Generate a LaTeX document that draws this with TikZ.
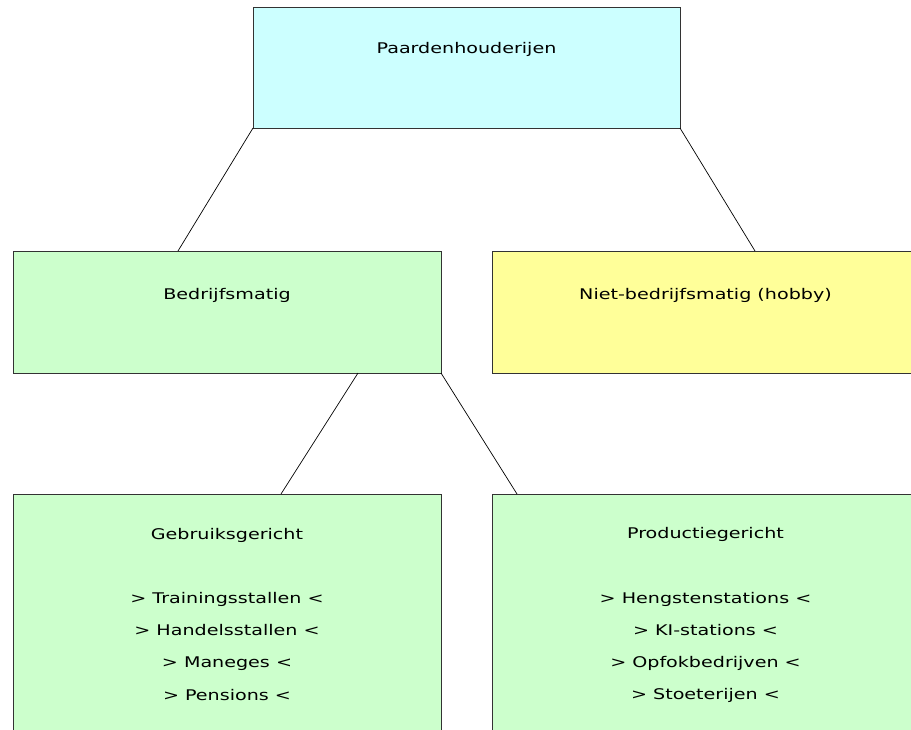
\documentclass[tikz,border=0pt]{standalone}
\usepackage{fontspec}
\setmainfont{DejaVu Sans}[FakeStretch=1.3]
\usetikzlibrary{calc}
\definecolor{cyanbox}{HTML}{CCFFFF}
\definecolor{greenbox}{HTML}{CCFFCC}
\definecolor{yellowbox}{HTML}{FFFF99}
\definecolor{boxline}{HTML}{333333}
\begin{document}
\begin{tikzpicture}[x=1pt,y=-1pt,
  box/.style={draw=boxline, line width=0.8pt, anchor=north west, inner sep=0pt, outer sep=0pt, minimum width=428pt},
  conn/.style={draw=black, line width=0.7pt},
  lbl/.style={anchor=base, inner sep=0pt, align=center, font=\fontsize{14.7pt}{32.2pt}\selectfont}]
\useasboundingbox (0,0) rectangle (911,729);
\clip (0,0) rectangle (911,729);
\fill[white] (0,0) rectangle (911,729);
% boxes
\node[box, fill=cyanbox, minimum width=427pt, minimum height=121pt] (top) at (253,7) {};
\node[box, fill=greenbox, minimum height=122pt] (bedr) at (13,251) {};
\node[box, fill=yellowbox, minimum height=122pt] (niet) at (492,251) {};
\node[box, fill=greenbox, minimum height=260pt] (gebr) at (13,494) {};
\node[box, fill=greenbox, minimum height=260pt] (prod) at (492,494) {};
% connectors
\draw[conn] (top.south west) -- ([xshift=165pt]bedr.north west);
\draw[conn] (top.south east) -- ([xshift=263pt]niet.north west);
\draw[conn] ([xshift=345pt]bedr.south west) -- ([xshift=268pt]gebr.north west);
\draw[conn] (bedr.south east) -- ([xshift=25pt]prod.north west);
% texts
\node[lbl] (toptext) at (466.5,53) {Paardenhouderijen};
\node[lbl] (bedrtext) at (227,299) {Bedrijfsmatig};
\node[lbl] (niettext) at (705.5,299) {Niet-bedrijfsmatig (hobby)};
\node[lbl] (gebrtext) at (227,700) {Gebruiksgericht\\[32.2pt]> Trainingsstallen <\\> Handelsstallen <\\> Maneges <\\> Pensions <};
\node[lbl] (prodtext) at (705.5,699.6) {Productiegericht\\[32.2pt]> Hengstenstations <\\> KI-stations <\\> Opfokbedrijven <\\> Stoeterijen <};
\end{tikzpicture}
\end{document}
